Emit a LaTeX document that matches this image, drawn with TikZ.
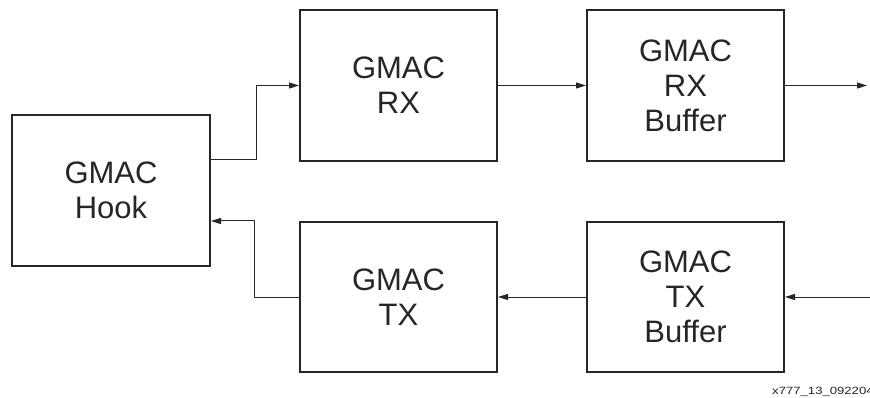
\documentclass[tikz,border=0pt]{standalone}
\usepackage{fontspec}
\usepackage{graphicx}
\setmainfont{Liberation Sans}
\usetikzlibrary{arrows.meta}
\begin{document}
\begin{tikzpicture}[x=1pt,y=-1pt,
  blk/.style={draw=black!85, line width=2pt, rectangle, minimum width=197pt, minimum height=151pt,
    align=center, font=\fontsize{31}{35}\selectfont, text=black!85, inner sep=0pt},
  conn/.style={draw=black!85, line width=1pt},
  arr/.style={conn, -{Triangle[length=10pt,width=6pt]}}]
\useasboundingbox (0,0) rectangle (870,398);
\node[blk, minimum width=198pt] (hook) at (111,190.5) {GMAC\\Hook};
\node[blk] (rx) at (398.5,85.5) {GMAC\\RX};
\node[blk] (rxb) at (685.5,85.5) {GMAC\\RX\\Buffer};
\node[blk, minimum height=150pt] (tx) at (398.5,297) {GMAC\\TX};
\node[blk, minimum height=150pt] (txb) at (685.5,297) {GMAC\\TX\\Buffer};
\coordinate (rxout) at (867,85.5);
\coordinate (txin) at (872,297);
\draw[arr] ([yshift=30.5pt]hook.east) -- ++(45pt,0) |- (rx.west);
\draw[arr] (rx.east) -- (rxb.west);
\draw[arr] (rxb.east) -- (rxout);
\draw[arr] (txin) -- (txb.east);
\draw[arr] (txb.west) -- (tx.east);
\draw[arr] (tx.west) -- ++(-45pt,0) |- ([yshift=-30.5pt]hook.east);
\begin{scope}
\clip (0,0) rectangle (870,398);
\node[anchor=base west, inner sep=0pt, font=\fontsize{10.5}{12}\selectfont, text=black!85] (lbl) at (772,394) {\scalebox{1.25}[1]{x777\_13\_092204}};
\end{scope}
\end{tikzpicture}
\end{document}
